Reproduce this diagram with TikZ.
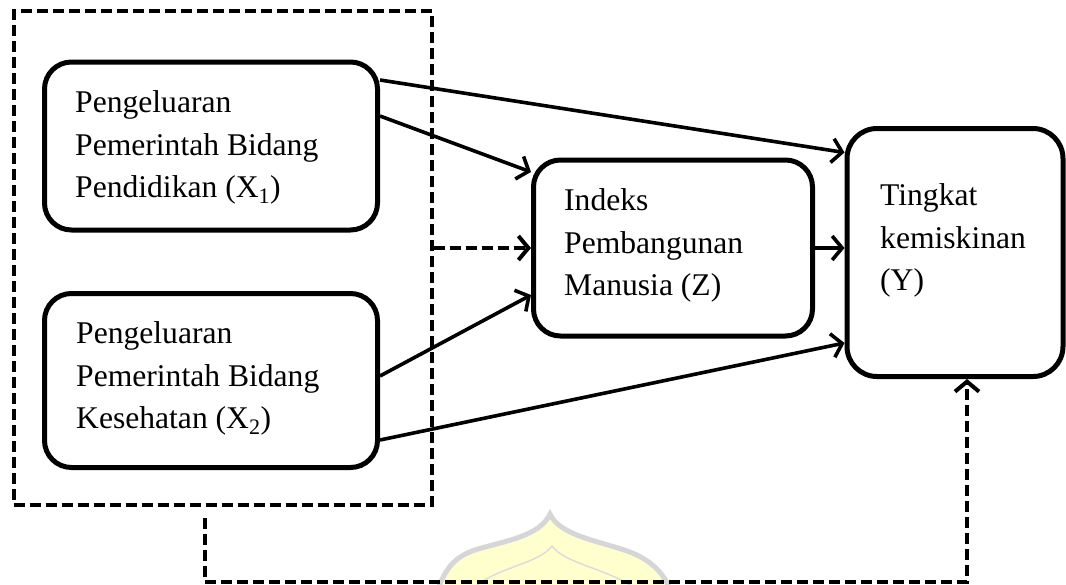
\documentclass[tikz,border=0pt]{standalone}
\usepackage{fontspec}
\setmainfont{Liberation Serif}
\usetikzlibrary{arrows.meta,calc}
\definecolor{wmfill}{RGB}{255,255,205}
\definecolor{wmline}{RGB}{214,214,214}
\definecolor{wmline2}{RGB}{220,220,220}
\begin{document}
\begin{tikzpicture}[x=1pt,y=-1pt,
  box/.style={draw, line width=5pt, rounded corners=27pt, inner sep=0pt},
  grpbox/.style={draw, line width=4pt, dash pattern=on 11pt off 5pt, inner sep=0pt},
  txt/.style={font=\fontsize{31.6}{42.5}\selectfont, align=left, inner sep=0pt, anchor=north west},
  conn/.style={line width=3.6pt, -{Straight Barb[length=10pt,width=24pt]}},
  dconn/.style={conn, line width=4pt, dash pattern=on 11pt off 5pt}]
\useasboundingbox (0,0) rectangle (1066,584);
% watermark
\path[fill=wmfill, draw=wmline, line width=5pt]
  (437,592) .. controls (446,565) and (458,555) .. (478,549)
  .. controls (505,541) and (540,536) .. (550,514)
  .. controls (560,536) and (600,541) .. (630,552)
  .. controls (650,560) and (664,572) .. (671,592);
\path[draw=wmline2, line width=1.5pt]
  (470,592) .. controls (490,568) and (538,565) .. (552,546)
  .. controls (566,565) and (610,568) .. (640,592);
% outer dashed group
\node[grpbox, minimum width=418pt, minimum height=494pt] (grp) at (222.5,258) {};
% boxes
\node[box, minimum width=333pt, minimum height=168pt] (X1) at (211,146) {};
\node[box, minimum width=333pt, minimum height=174pt] (X2) at (211,380.5) {};
\node[box, minimum width=279pt, minimum height=176pt] (Z) at (673,248) {};
\node[box, minimum width=216pt, minimum height=248pt, rounded corners=30pt] (Y) at (955,252.5) {};
% texts
\node[txt] (X1t) at (75,90.5) {Pengeluaran\\Pemerintah Bidang\\Pendidikan (X\textsubscript{1})};
\node[txt] (X2t) at (76,321.5) {Pengeluaran\\Pemerintah Bidang\\Kesehatan (X\textsubscript{2})};
\node[txt] (Zt) at (564,188.5) {Indeks\\Pembangunan\\Manusia (Z)};
\node[txt] (Yt) at (880,183.5) {Tingkat\\kemiskinan\\(Y)};
% connectors
\draw[conn] ([yshift=66pt]X1.east) -- ([yshift=100pt]Y.west);
\draw[conn] ([yshift=30pt]X1.east) -- ([yshift=76pt]Z.west);
\draw[dconn] (grp.east |- Z.west) -- (Z.west);
\draw[conn] ([yshift=4.5pt]X2.east) -- ([yshift=-47pt]Z.west);
\draw[conn] ([yshift=-59.5pt]X2.east) -- ([yshift=-90.5pt]Y.west);
\draw[conn] (Z.east) -- (Z.east -| Y.west);
\coordinate (d0) at ([xshift=-17.5pt,yshift=-11pt]grp.south);
\coordinate (yb) at ([xshift=12pt]Y.south);
\coordinate (d1) at (d0 |- 0,582);
\draw[dconn] (d0) -- (d1) -- (d1 -| yb) -- (yb);
\end{tikzpicture}
\end{document}
